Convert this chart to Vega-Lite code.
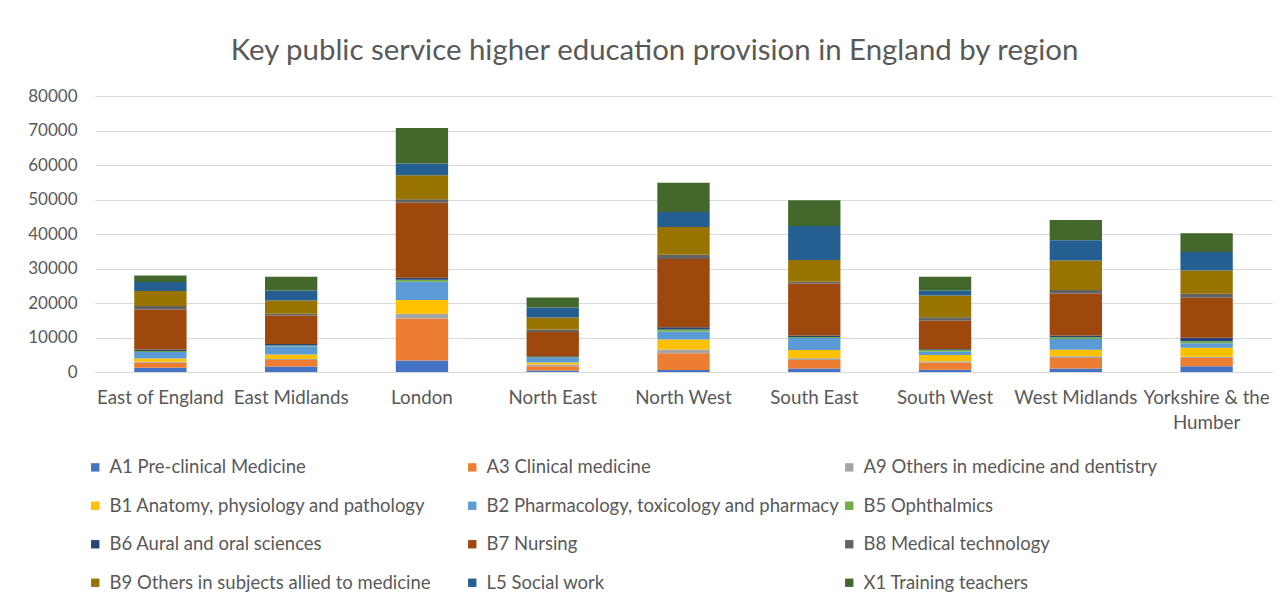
{
  "$schema": "https://vega.github.io/schema/vega-lite/v6.json",
  "width": 1177,
  "height": 276,
  "autosize": {"type": "none"},
  "padding": {"left": 95, "top": 96, "right": 12, "bottom": 231},
  "background": "white",
  "title": {
    "text": "Key public service higher education provision in England by region",
    "font": "Lato",
    "fontSize": 29.4,
    "fontWeight": "normal",
    "color": "#595959",
    "anchor": "middle",
    "dx": -29,
    "offset": -2,
    "baseline": "alphabetic"
  },
  "config": {
    "view": {"stroke": null},
    "font": "Lato"
  },
  "data": {
    "values": [
      {"region": "East of England", "series": "A1 Pre-clinical Medicine", "value": 1200},
      {"region": "East of England", "series": "A3 Clinical medicine", "value": 1500},
      {"region": "East of England", "series": "A9 Others in medicine and dentistry", "value": 300},
      {"region": "East of England", "series": "B1 Anatomy, physiology and pathology", "value": 900},
      {"region": "East of England", "series": "B2 Pharmacology, toxicology and pharmacy", "value": 1900},
      {"region": "East of England", "series": "B5 Ophthalmics", "value": 300},
      {"region": "East of England", "series": "B6 Aural and oral sciences", "value": 400},
      {"region": "East of England", "series": "B7 Nursing", "value": 11600},
      {"region": "East of England", "series": "B8 Medical technology", "value": 1050},
      {"region": "East of England", "series": "B9 Others in subjects allied to medicine", "value": 4350},
      {"region": "East of England", "series": "L5 Social work", "value": 2600},
      {"region": "East of England", "series": "X1 Training teachers", "value": 1900},

      {"region": "East Midlands", "series": "A1 Pre-clinical Medicine", "value": 1600},
      {"region": "East Midlands", "series": "A3 Clinical medicine", "value": 1900},
      {"region": "East Midlands", "series": "A9 Others in medicine and dentistry", "value": 300},
      {"region": "East Midlands", "series": "B1 Anatomy, physiology and pathology", "value": 1250},
      {"region": "East Midlands", "series": "B2 Pharmacology, toxicology and pharmacy", "value": 2450},
      {"region": "East Midlands", "series": "B5 Ophthalmics", "value": 200},
      {"region": "East Midlands", "series": "B6 Aural and oral sciences", "value": 400},
      {"region": "East Midlands", "series": "B7 Nursing", "value": 8300},
      {"region": "East Midlands", "series": "B8 Medical technology", "value": 500},
      {"region": "East Midlands", "series": "B9 Others in subjects allied to medicine", "value": 3850},
      {"region": "East Midlands", "series": "L5 Social work", "value": 2850},
      {"region": "East Midlands", "series": "X1 Training teachers", "value": 4000},

      {"region": "London", "series": "A1 Pre-clinical Medicine", "value": 3300},
      {"region": "London", "series": "A3 Clinical medicine", "value": 12200},
      {"region": "London", "series": "A9 Others in medicine and dentistry", "value": 1350},
      {"region": "London", "series": "B1 Anatomy, physiology and pathology", "value": 4000},
      {"region": "London", "series": "B2 Pharmacology, toxicology and pharmacy", "value": 5300},
      {"region": "London", "series": "B5 Ophthalmics", "value": 600},
      {"region": "London", "series": "B6 Aural and oral sciences", "value": 600},
      {"region": "London", "series": "B7 Nursing", "value": 21700},
      {"region": "London", "series": "B8 Medical technology", "value": 1000},
      {"region": "London", "series": "B9 Others in subjects allied to medicine", "value": 7000},
      {"region": "London", "series": "L5 Social work", "value": 3400},
      {"region": "London", "series": "X1 Training teachers", "value": 10300},

      {"region": "North East", "series": "A1 Pre-clinical Medicine", "value": 400},
      {"region": "North East", "series": "A3 Clinical medicine", "value": 1250},
      {"region": "North East", "series": "A9 Others in medicine and dentistry", "value": 500},
      {"region": "North East", "series": "B1 Anatomy, physiology and pathology", "value": 600},
      {"region": "North East", "series": "B2 Pharmacology, toxicology and pharmacy", "value": 1350},
      {"region": "North East", "series": "B5 Ophthalmics", "value": 200},
      {"region": "North East", "series": "B6 Aural and oral sciences", "value": 300},
      {"region": "North East", "series": "B7 Nursing", "value": 7000},
      {"region": "North East", "series": "B8 Medical technology", "value": 700},
      {"region": "North East", "series": "B9 Others in subjects allied to medicine", "value": 3500},
      {"region": "North East", "series": "L5 Social work", "value": 2900},
      {"region": "North East", "series": "X1 Training teachers", "value": 2900},

      {"region": "North West", "series": "A1 Pre-clinical Medicine", "value": 600},
      {"region": "North West", "series": "A3 Clinical medicine", "value": 4850},
      {"region": "North West", "series": "A9 Others in medicine and dentistry", "value": 1050},
      {"region": "North West", "series": "B1 Anatomy, physiology and pathology", "value": 2900},
      {"region": "North West", "series": "B2 Pharmacology, toxicology and pharmacy", "value": 2350},
      {"region": "North West", "series": "B5 Ophthalmics", "value": 600},
      {"region": "North West", "series": "B6 Aural and oral sciences", "value": 600},
      {"region": "North West", "series": "B7 Nursing", "value": 19800},
      {"region": "North West", "series": "B8 Medical technology", "value": 1250},
      {"region": "North West", "series": "B9 Others in subjects allied to medicine", "value": 8000},
      {"region": "North West", "series": "L5 Social work", "value": 4400},
      {"region": "North West", "series": "X1 Training teachers", "value": 8450},

      {"region": "South East", "series": "A1 Pre-clinical Medicine", "value": 1050},
      {"region": "South East", "series": "A3 Clinical medicine", "value": 2400},
      {"region": "South East", "series": "A9 Others in medicine and dentistry", "value": 500},
      {"region": "South East", "series": "B1 Anatomy, physiology and pathology", "value": 2400},
      {"region": "South East", "series": "B2 Pharmacology, toxicology and pharmacy", "value": 3500},
      {"region": "South East", "series": "B5 Ophthalmics", "value": 300},
      {"region": "South East", "series": "B6 Aural and oral sciences", "value": 400},
      {"region": "South East", "series": "B7 Nursing", "value": 15100},
      {"region": "South East", "series": "B8 Medical technology", "value": 500},
      {"region": "South East", "series": "B9 Others in subjects allied to medicine", "value": 6300},
      {"region": "South East", "series": "L5 Social work", "value": 9900},
      {"region": "South East", "series": "X1 Training teachers", "value": 7400},

      {"region": "South West", "series": "A1 Pre-clinical Medicine", "value": 650},
      {"region": "South West", "series": "A3 Clinical medicine", "value": 2100},
      {"region": "South West", "series": "A9 Others in medicine and dentistry", "value": 400},
      {"region": "South West", "series": "B1 Anatomy, physiology and pathology", "value": 1800},
      {"region": "South West", "series": "B2 Pharmacology, toxicology and pharmacy", "value": 1000},
      {"region": "South West", "series": "B5 Ophthalmics", "value": 500},
      {"region": "South West", "series": "B6 Aural and oral sciences", "value": 200},
      {"region": "South West", "series": "B7 Nursing", "value": 8200},
      {"region": "South West", "series": "B8 Medical technology", "value": 1000},
      {"region": "South West", "series": "B9 Others in subjects allied to medicine", "value": 6350},
      {"region": "South West", "series": "L5 Social work", "value": 1450},
      {"region": "South West", "series": "X1 Training teachers", "value": 3950},

      {"region": "West Midlands", "series": "A1 Pre-clinical Medicine", "value": 1050},
      {"region": "West Midlands", "series": "A3 Clinical medicine", "value": 3000},
      {"region": "West Midlands", "series": "A9 Others in medicine and dentistry", "value": 500},
      {"region": "West Midlands", "series": "B1 Anatomy, physiology and pathology", "value": 1900},
      {"region": "West Midlands", "series": "B2 Pharmacology, toxicology and pharmacy", "value": 3100},
      {"region": "West Midlands", "series": "B5 Ophthalmics", "value": 500},
      {"region": "West Midlands", "series": "B6 Aural and oral sciences", "value": 500},
      {"region": "West Midlands", "series": "B7 Nursing", "value": 12200},
      {"region": "West Midlands", "series": "B8 Medical technology", "value": 1000},
      {"region": "West Midlands", "series": "B9 Others in subjects allied to medicine", "value": 8600},
      {"region": "West Midlands", "series": "L5 Social work", "value": 5850},
      {"region": "West Midlands", "series": "X1 Training teachers", "value": 5850},

      {"region": "Yorkshire & the Humber", "series": "A1 Pre-clinical Medicine", "value": 1650},
      {"region": "Yorkshire & the Humber", "series": "A3 Clinical medicine", "value": 2400},
      {"region": "Yorkshire & the Humber", "series": "A9 Others in medicine and dentistry", "value": 400},
      {"region": "Yorkshire & the Humber", "series": "B1 Anatomy, physiology and pathology", "value": 2600},
      {"region": "Yorkshire & the Humber", "series": "B2 Pharmacology, toxicology and pharmacy", "value": 1250},
      {"region": "Yorkshire & the Humber", "series": "B5 Ophthalmics", "value": 600},
      {"region": "Yorkshire & the Humber", "series": "B6 Aural and oral sciences", "value": 1050},
      {"region": "Yorkshire & the Humber", "series": "B7 Nursing", "value": 11600},
      {"region": "Yorkshire & the Humber", "series": "B8 Medical technology", "value": 1150},
      {"region": "Yorkshire & the Humber", "series": "B9 Others in subjects allied to medicine", "value": 6700},
      {"region": "Yorkshire & the Humber", "series": "L5 Social work", "value": 5400},
      {"region": "Yorkshire & the Humber", "series": "X1 Training teachers", "value": 5400}
    ]
  },
  "mark": {"type": "bar"},
  "encoding": {
    "x": {
      "field": "region",
      "type": "nominal",
      "sort": null,
      "scale": {"paddingInner": 0.6, "paddingOuter": 0.3},
      "axis": {
        "title": null,
        "labelAngle": 0,
        "labelFont": "Lato",
        "labelFontSize": 18.8,
        "labelColor": "#595959",
        "labelPadding": 16,
        "labelLineHeight": 25,
        "ticks": false,
        "domainColor": "#d9d9d9",
        "domainWidth": 1,
        "labelLimit": 0,
        "labelExpr": "datum.value == 'Yorkshire & the Humber' ? ['Yorkshire & the', 'Humber'] : datum.value"
      }
    },
    "y": {
      "field": "value",
      "type": "quantitative",
      "stack": "zero",
      "scale": {"domain": [0, 80000], "nice": false},
      "axis": {
        "title": null,
        "values": [0, 10000, 20000, 30000, 40000, 50000, 60000, 70000, 80000],
        "format": "d",
        "labelFont": "Lato",
        "labelFontSize": 17,
        "labelColor": "#595959",
        "labelPadding": 18,
        "ticks": false,
        "domain": false,
        "gridColor": "#d9d9d9",
        "gridWidth": 1
      }
    },
    "color": {
      "field": "series",
      "type": "nominal",
      "scale": {
        "domain": [
          "A1 Pre-clinical Medicine",
          "A3 Clinical medicine",
          "A9 Others in medicine and dentistry",
          "B1 Anatomy, physiology and pathology",
          "B2 Pharmacology, toxicology and pharmacy",
          "B5 Ophthalmics",
          "B6 Aural and oral sciences",
          "B7 Nursing",
          "B8 Medical technology",
          "B9 Others in subjects allied to medicine",
          "L5 Social work",
          "X1 Training teachers"
        ],
        "range": ["#4472C4", "#ED7D31", "#A5A5A5", "#FFC000", "#5B9BD5", "#70AD47", "#264478", "#9E480E", "#636363", "#997300", "#255E91", "#43682B"]
      },
      "legend": {
        "title": null,
        "orient": "none",
        "direction": "horizontal",
        "legendX": -9,
        "legendY": 362,
        "columns": 3,
        "gridAlign": "all",
        "columnPadding": 0,
        "rowPadding": 19.5,
        "symbolType": "square",
        "symbolSize": 70,
        "symbolStrokeWidth": 0,
        "labelFont": "Lato",
        "labelFontSize": 18.5,
        "labelColor": "#595959",
        "labelOffset": 5,
        "labelLimit": 0
      }
    },
    "order": {"field": "series", "sort": "ascending"}
  }
}
